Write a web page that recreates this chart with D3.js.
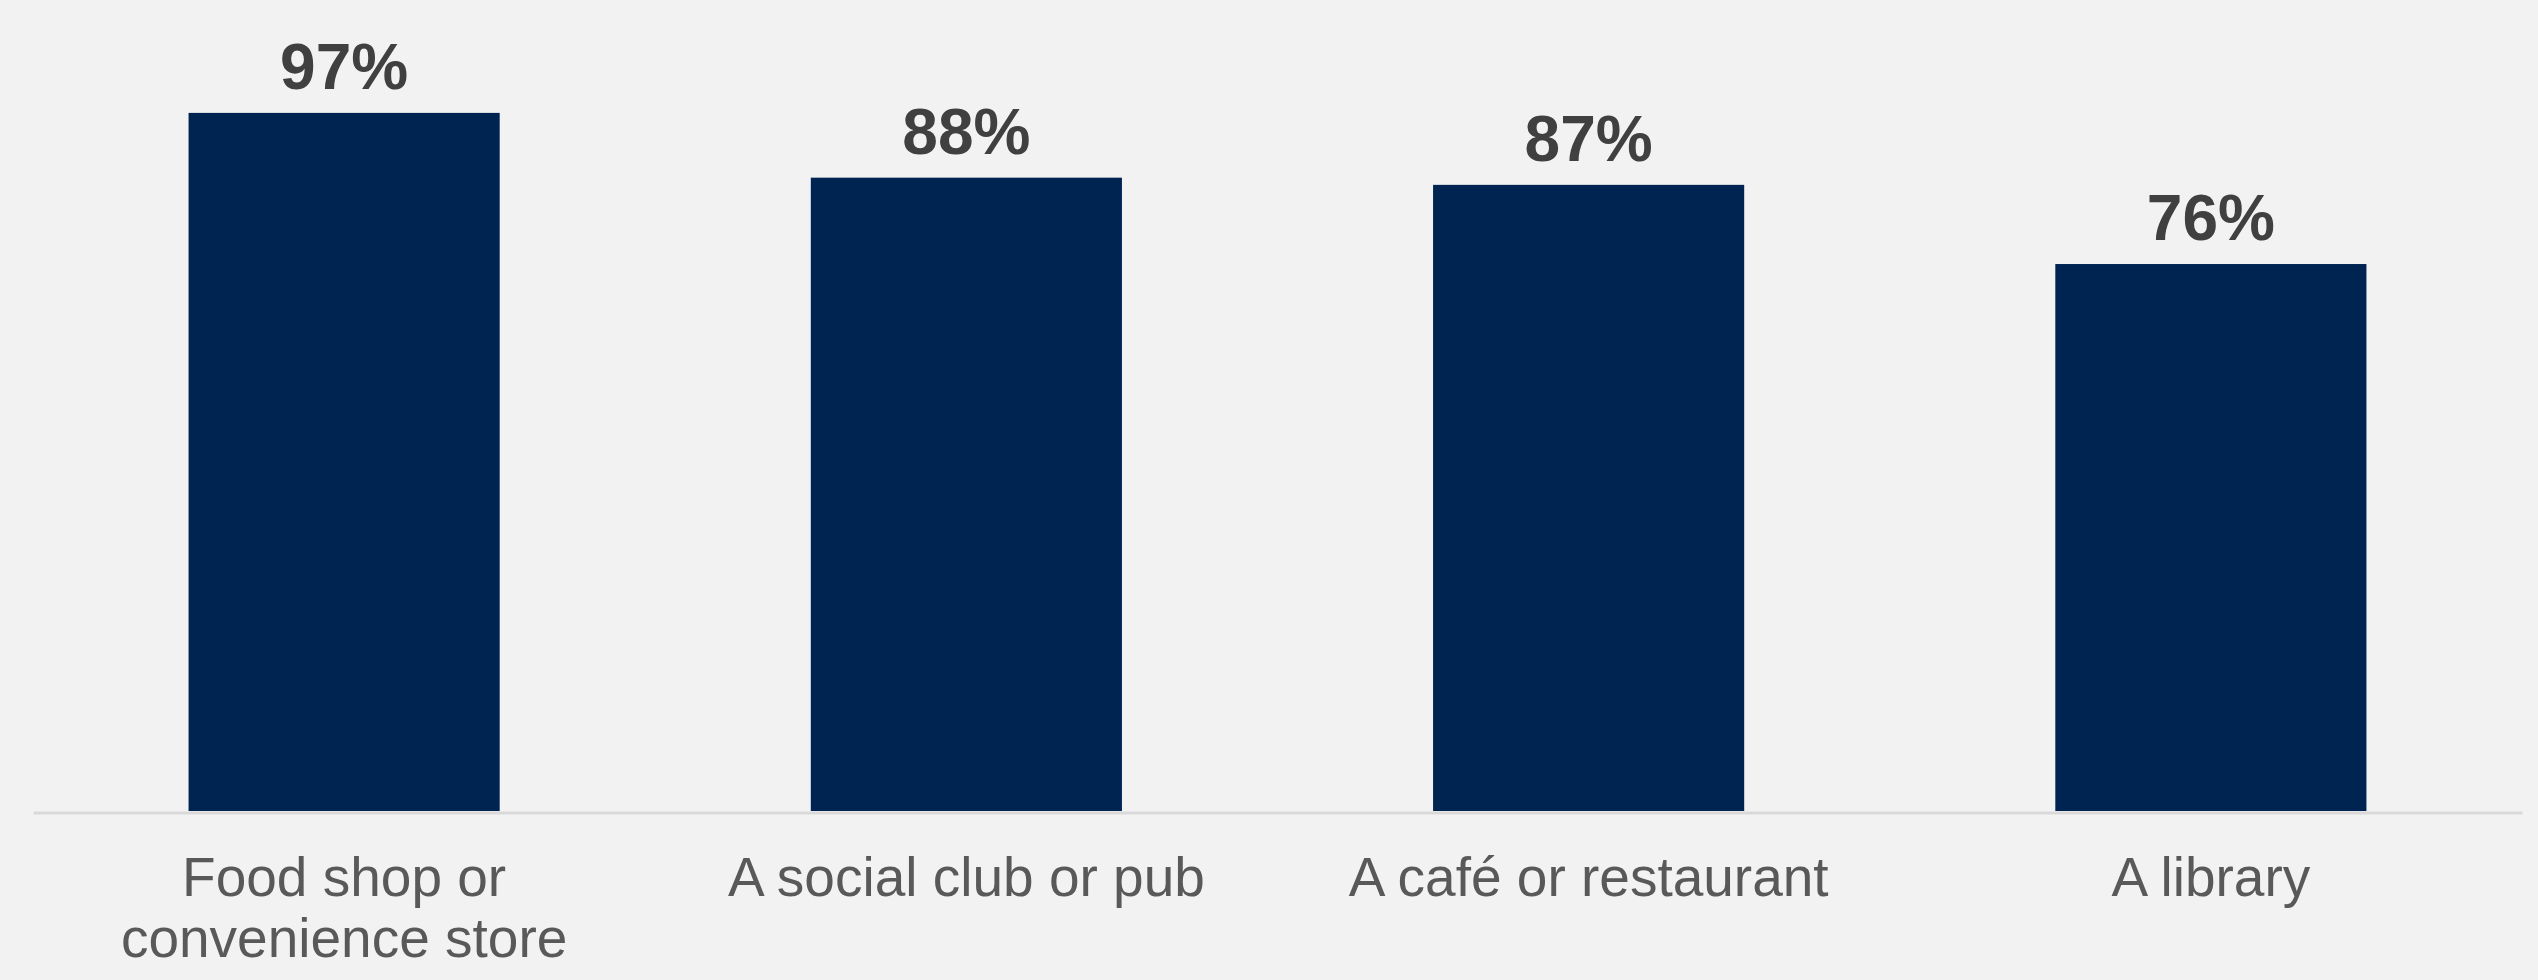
<!DOCTYPE html>
<html lang="en">
<head>
    <meta charset="UTF-8">
    <title>Places</title>
    <script src="https://d3js.org/d3.v7.min.js"></script>
    <style>
        html, body {
            margin: 0;
            padding: 0;
            background: #f2f2f2;
        }

        .value-label {
            font-family: "Liberation Sans", Arial, sans-serif;
            font-weight: bold;
            font-size: 64px;
            fill: #404040;
            text-anchor: middle;
        }

        .cat-label {
            font-family: "Liberation Sans", Arial, sans-serif;
            font-size: 55px;
            fill: #595959;
            text-anchor: middle;
        }
    </style>
</head>
<body>
    <div id="chart"></div>
    <script>
        const categories = ['Food shop or convenience store', 'A social club or pub', 'A café or restaurant', 'A library'];
        const values = [97, 88, 87, 76];

        const width = 2538;
        const height = 980;
        const baseline = 811;

        const svg = d3.select("#chart")
            .append("svg")
            .attr("width", width)
            .attr("height", height)
            .style("display", "block")
            .style("background", "#f2f2f2");

        const x = d3.scaleBand()
            .domain(categories)
            .range([33, 2522])
            .paddingInner(0.5)
            .paddingOuter(0.25);

        const y = d3.scaleLinear()
            .domain([0, 100])
            .range([baseline, 91.3]);

        // bars
        svg.append("g")
            .selectAll("rect")
            .data(values)
            .enter()
            .append("rect")
            .attr("x", (d, i) => x(categories[i]))
            .attr("y", d => y(d))
            .attr("width", x.bandwidth())
            .attr("height", d => baseline - y(d))
            .attr("fill", "#002451");

        // value labels
        svg.append("g")
            .selectAll("text")
            .data(values)
            .enter()
            .append("text")
            .attr("class", "value-label")
            .attr("x", (d, i) => x(categories[i]) + x.bandwidth() / 2)
            .attr("y", d => y(d) - 24)
            .text(d => d + "%");

        // x axis
        const xAxis = svg.append("g")
            .attr("transform", `translate(0,${baseline + 1.5})`)
            .call(d3.axisBottom(x).tickSize(0).tickSizeOuter(0));

        xAxis.select(".domain")
            .attr("stroke", "#d9d9d9")
            .attr("stroke-width", 3);

        xAxis.selectAll(".tick text").remove();

        // wrap category labels
        const measure = svg.append("text").attr("class", "cat-label").attr("opacity", 0);
        function wrap(str, maxW) {
            const words = str.split(" ");
            const lines = [];
            let line = [];
            words.forEach(w => {
                line.push(w);
                measure.text(line.join(" "));
                if (measure.node().getComputedTextLength() > maxW && line.length > 1) {
                    line.pop();
                    lines.push(line.join(" "));
                    line = [w];
                }
            });
            lines.push(line.join(" "));
            return lines;
        }

        xAxis.selectAll(".tick").each(function(d) {
            const lines = wrap(d, 580);
            const t = d3.select(this).append("text")
                .attr("class", "cat-label")
                .attr("y", 83.5);
            lines.forEach((l, i) => {
                t.append("tspan")
                    .attr("x", 0)
                    .attr("dy", i === 0 ? 0 : 61)
                    .text(l);
            });
        });
        measure.remove();
    </script>
</body>
</html>
